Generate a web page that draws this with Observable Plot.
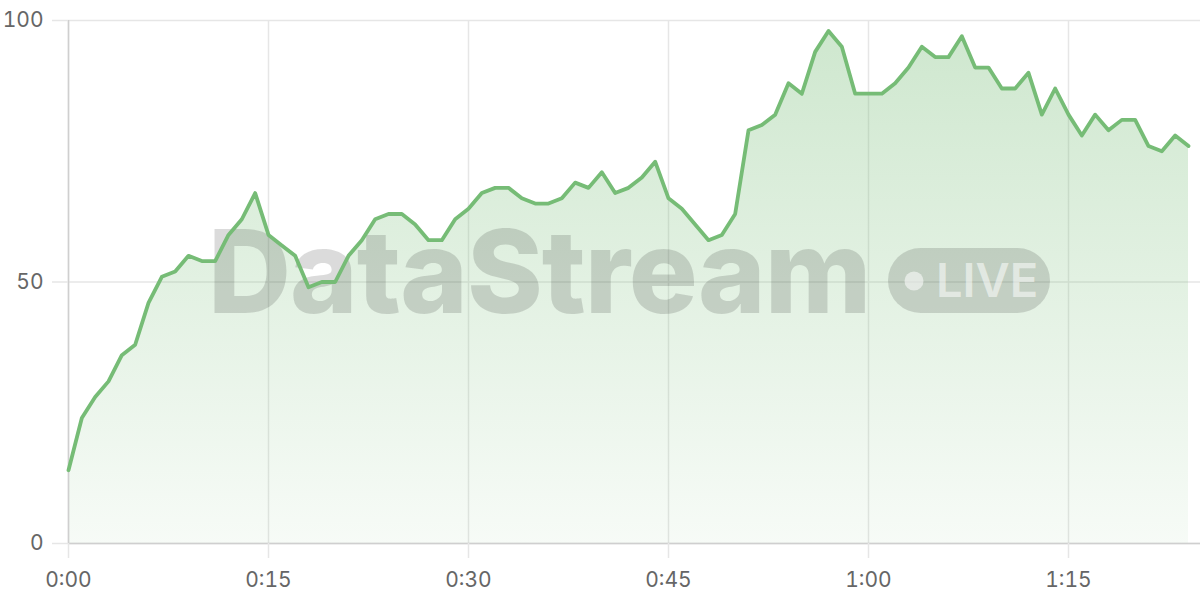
<!DOCTYPE html>
<html><head><meta charset="utf-8">
<script src="https://cdn.jsdelivr.net/npm/d3@7"></script>
<script src="https://cdn.jsdelivr.net/npm/@observablehq/plot@0.6"></script>
<style>html,body{margin:0;padding:0;background:#fff}#chart svg{display:block}</style>
</head><body><div id="chart"></div>
<script>
// minute offsets 0..84 and readings
const values = [14,24,28,31,36,38,46,51,52,55,54,54,59,62,67,59,57,55,49,50,
  50,55,58,62,63,63,61,58,58,62,64,67,68,68,66,65,65,66,69,68,
  71,67,68,70,73,66,64,61,58,59,63,79,80,82,88,86,94,98,95,86,
  86,86,88,91,95,93,93,97,91,91,87,87,90,82,87,82,78,82,79,81,
  81,76,75,78,76];
const minutes = values.map((_, i) => i);
const xTicks = [0, 15, 30, 45, 60, 75];
const yTicks = [0, 50, 100];
const data = minutes.map((m, i) => ({m, v: values[i]}));

const lineColor = "#76bc76";
const fmt = d => `${Math.floor(d / 60)}:${String(d % 60).padStart(2, "0")}`;
const NS = "http://www.w3.org/2000/svg";
function el(tag, attrs, text) {
  const e = document.createElementNS(NS, tag);
  for (const k in attrs) e.setAttribute(k, attrs[k]);
  if (text) e.textContent = text;
  return e;
}

const gradient = () => {
  const defs = el("defs", {});
  const g = el("linearGradient", {id: "fillGrad", x1: 0, x2: 0, y1: 20, y2: 543, gradientUnits: "userSpaceOnUse"});
  g.appendChild(el("stop", {offset: "0%", "stop-color": lineColor, "stop-opacity": 0.36}));
  g.appendChild(el("stop", {offset: "100%", "stop-color": lineColor, "stop-opacity": 0.06}));
  defs.appendChild(g);
  return defs;
};

const watermark = (index, scales) => {
  const cx = (scales.x(minutes[0]) + scales.x(minutes[minutes.length - 1])) / 2;
  const g = el("g", {transform: `translate(${cx},0)`, "pointer-events": "none", "text-anchor": "start"});
  const shade = "rgba(0,0,0,0.14)";
  g.appendChild(el("text", {x: -420, y: 313, fill: shade, "font-family": "Inter, sans-serif",
    "font-weight": 800, "font-size": 115, "letter-spacing": -1, "text-anchor": "start"}, "DataStream"));
  g.appendChild(el("rect", {x: 260, y: 248, width: 162, height: 65, rx: 32.5, fill: shade}));
  g.appendChild(el("circle", {cx: 286, cy: 281, r: 9.5, fill: "rgba(255,255,255,0.55)"}));
  g.appendChild(el("text", {x: 308, y: 297, fill: "rgba(255,255,255,0.55)", "font-family": "Inter, sans-serif",
    "font-weight": 600, "font-size": 47, "text-anchor": "start"}, "LIVE"));
  return g;
};

const chart = Plot.plot({
  width: 1200, height: 600,
  marginTop: 20, marginBottom: 57, marginLeft: 68, marginRight: 0,
  style: {fontFamily: "Inter, sans-serif", fontSize: "21px", color: "#666", background: "#fff"},
  x: {domain: [0, 84.9], axis: null},
  y: {domain: [0, 100], axis: null},
  marks: [
    gradient,
    Plot.gridY(yTicks, {stroke: "#e6e6e6", strokeOpacity: 1, strokeWidth: 1.5}),
    Plot.gridX(xTicks, {stroke: "#e6e6e6", strokeOpacity: 1, strokeWidth: 1.5}),
    Plot.areaY(data, {x: "m", y: "v", fill: "url(#fillGrad)"}),
    watermark,
    Plot.ruleX([0], {stroke: "#cfcfcf", strokeWidth: 1.5}),
    Plot.ruleY([0], {stroke: "#cfcfcf", strokeWidth: 1.5}),
    Plot.lineY(data, {x: "m", y: "v", stroke: lineColor, strokeWidth: 3.8, strokeLinejoin: "round"}),
    Plot.axisY(yTicks, {tickSize: 16, tickPadding: 9, stroke: "#e6e6e6", strokeWidth: 1.5, fill: "#666", label: null}),
    Plot.axisX(xTicks, {tickSize: 15, tickPadding: 14, stroke: "#e6e6e6", strokeWidth: 1.5, fill: "#666", tickFormat: fmt, label: null})
  ]
});
document.getElementById("chart").appendChild(chart);
</script>
</body></html>
